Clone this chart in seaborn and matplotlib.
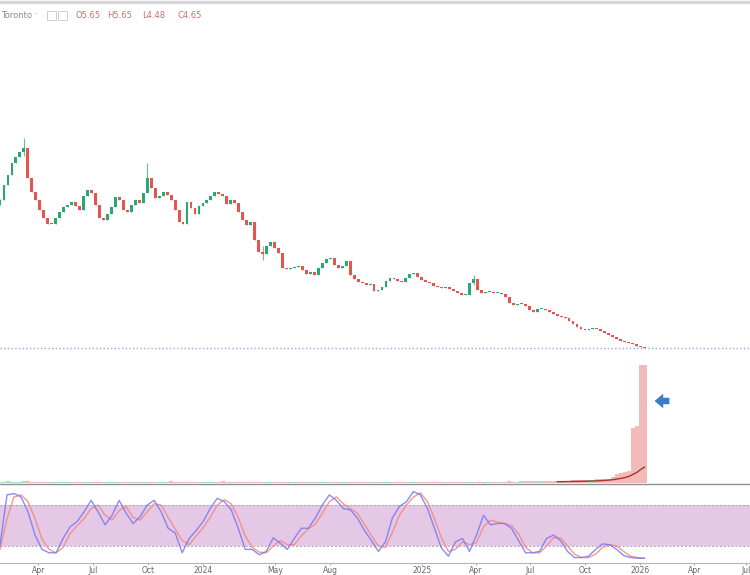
import matplotlib
matplotlib.use('Agg')
import matplotlib.pyplot as plt
from matplotlib.lines import Line2D
from matplotlib.patches import Rectangle
import numpy as np
import pandas as pd
import seaborn as sns

# weekly-ish closes (last one is C4.65 from the header)
closes = [19.45, 20.95, 21.95, 23.15, 23.75, 24.25, 24.65, 21.65, 20.25, 19.45,
          18.45, 17.65, 17.05, 17.05, 17.65, 18.25, 18.75, 18.95, 19.25, 18.85,
          18.45, 19.85, 20.45, 20.15, 18.95, 17.65, 17.45, 18.05, 18.75, 19.75,
          19.45, 18.45, 18.25, 18.95, 19.45, 19.15, 20.15, 21.65, 20.65, 19.65,
          19.85, 20.25, 19.95, 19.45, 18.45, 17.25, 17.05, 19.25, 18.65, 18.05,
          18.85, 19.15, 19.45, 19.85, 20.25, 20.05, 19.85, 19.05, 19.45, 19.15,
          18.25, 17.45, 16.95, 17.25, 15.45, 14.25, 14.05, 14.85, 15.25, 14.65,
          14.15, 12.65, 12.55, 12.65, 12.75, 12.85, 12.45, 12.05, 12.25, 11.95,
          12.65, 13.15, 13.55, 13.65, 12.95, 12.65, 12.85, 13.35, 11.95, 11.55,
          11.25, 11.15, 10.95, 11.05, 10.35, 10.45, 10.75, 11.35, 11.65, 11.55,
          11.35, 11.25, 11.65, 12.05, 12.15, 11.75, 11.45, 11.25, 11.15, 10.85,
          10.75, 10.65, 10.75, 10.55, 10.35, 10.15, 9.95, 9.95, 11.15, 11.55,
          10.45, 10.15, 10.25, 10.25, 10.15, 10.15, 10.05, 9.75, 9.15, 8.95,
          9.05, 9.05, 8.85, 8.45, 8.25, 8.55, 8.55, 8.45, 8.25, 8.05,
          7.85, 7.75, 7.65, 7.35, 7.05, 6.75, 6.55, 6.45, 6.55, 6.65,
          6.55, 6.35, 6.15, 5.95, 5.75, 5.55, 5.35, 5.25, 5.15, 5.05,
          4.85, 4.75, 4.65]
first_open = 18.95

# the few long wicks that stand out
wick_idx = [0, 6, 37, 66, 119]
wick_high = [19.6, 25.65, 23.15, 14.9, 11.95]
wick_low = [18.95, 23.9, 20.9, 13.45, 11.0]

volume = [1.4, 1.2, 1.6, 1.3, 1.1, 1.5, 1.8, 1.6, 1.2, 1.1, 1.0, 1.2, 0.9, 1.0,
          1.1, 1.0, 0.9, 1.2, 1.3, 1.1, 1.0, 0.9, 1.1, 1.2, 1.0, 0.9, 1.0, 1.1,
          1.2, 1.0, 1.1, 1.3, 1.5, 1.2, 1.0, 1.1, 0.9, 1.0, 1.2, 1.1, 1.0, 1.3,
          1.4, 1.6, 1.2, 1.1, 1.0, 1.2, 1.1, 1.3, 1.0, 0.9, 1.1, 1.0, 1.2, 1.5,
          1.7, 1.4, 1.2, 1.3, 1.1, 1.0, 1.2, 1.1, 1.0, 1.1, 0.9, 1.0, 1.1, 1.2,
          1.0, 1.1, 1.3, 1.2, 1.0, 0.9, 1.0, 1.1, 1.0, 1.2, 1.1, 1.0, 0.9, 1.0,
          1.1, 1.0, 1.2, 1.1, 0.9, 1.0, 1.1, 1.3, 1.0, 1.1, 1.0, 0.9, 1.0, 1.1,
          1.5, 1.2, 1.0, 1.1, 1.0, 0.9, 1.0, 1.1, 1.2, 1.0, 1.1, 1.0, 1.2, 1.1,
          1.0, 1.1, 1.2, 1.3, 1.1, 1.2, 1.4, 1.3, 1.2, 1.1, 1.3, 1.2, 1.4, 1.5,
          1.3, 1.4, 1.6, 1.5, 1.4, 1.6, 1.8, 1.7, 1.6, 1.8, 2.0, 1.9, 2.1, 2.2,
          2.0, 2.3, 2.5, 2.4, 2.6, 2.8, 3.0, 2.9, 3.2, 3.4, 3.6, 3.8, 4.0, 4.5,
          6.0, 9.5, 10.5, 11.0, 12.5, 55.0, 57.0, 118.0, 118.0]
vol_ma_start = 140
vol_ma = [1.3, 1.35, 1.4, 1.5, 1.55, 1.6, 1.7, 1.8, 1.9, 2.0, 2.2, 2.4, 2.6,
          2.9, 3.3, 3.9, 4.6, 5.4, 6.5, 8.5, 10.5, 13.5, 16.0]

stoch_k = [21, 95, 97, 92, 70, 36, 15, 10, 10, 31, 48, 56, 70, 87, 70, 51, 65,
           87, 68, 53, 63, 80, 87, 70, 46, 39, 10, 31, 43, 56, 75, 90, 85, 73,
           46, 15, 15, 7, 12, 32, 24, 15, 31, 46, 46, 61, 80, 95, 87, 75, 73,
           61, 43, 28, 12, 26, 61, 78, 85, 100, 95, 75, 46, 17, 5, 26, 31, 12,
           36, 65, 51, 53, 53, 46, 28, 10, 10, 12, 31, 36, 28, 12, 3, 3, 5, 15,
           23, 22, 15, 6, 3, 2, 2]
stoch_d = [15, 60, 92, 95, 85, 60, 30, 15, 10, 18, 38, 50, 60, 75, 80, 65, 58,
           72, 78, 62, 58, 70, 82, 80, 62, 45, 28, 22, 35, 47, 62, 80, 88, 82,
           62, 35, 18, 11, 10, 20, 28, 22, 22, 35, 45, 52, 68, 85, 92, 82, 75,
           68, 52, 35, 20, 18, 40, 65, 80, 92, 98, 85, 60, 32, 12, 15, 26, 22,
           25, 48, 58, 55, 53, 50, 38, 18, 10, 10, 20, 32, 32, 20, 8, 3, 3, 8,
           18, 22, 20, 12, 5, 3, 2]

tick_dates = ['2023-04-01', '2023-07-01', '2023-10-01', '2024-01-01', '2024-05-01',
              '2024-08-01', '2025-01-01', '2025-04-01', '2025-07-01', '2025-10-01',
              '2026-01-01', '2026-04-01', '2026-06-26']
tick_labels = ['Apr', 'Jul', 'Oct', '2024', 'May', 'Aug', '2025', 'Apr', 'Jul',
               'Oct', '2026', 'Apr', 'Jul']
header_name = 'Toronto'
header_ohlc = ['O5.65', 'H5.65', 'L4.48', 'C4.65']
last_close = 4.65

sns.set_theme(style='white')
plt.rcParams['font.family'] = ['DejaVu Sans']

green = '#27a874'
red = '#e2564f'
W, H = 750, 575

fig = plt.figure(figsize=(7.5, 5.75), dpi=100)
ax = fig.add_axes([0, 1 - 355 / H, 1, 355 / H])
axv = fig.add_axes([0, 1 - 483 / H, 1, 133 / H], sharex=ax)
ax3 = fig.add_axes([0, 1 - 563 / H, 1, 79 / H], sharex=ax)
for a in (ax, axv, ax3):
    a.patch.set_alpha(0)
    for s in a.spines.values():
        s.set_visible(False)

dates = pd.date_range('2023-01-27', '2026-01-08', periods=len(closes))
c = np.array(closes)
o = np.array([first_open] + closes[:-1])
up = c >= o
cols = np.where(up, green, red)
lo = np.minimum(o, c)
hi = np.maximum(o, c)
highs = hi.copy()
lows = lo.copy()
for i, h, l in zip(wick_idx, wick_high, wick_low):
    highs[i] = h
    lows[i] = l

ax.vlines(dates, lows, highs, colors=cols, linewidth=0.8, alpha=0.7)
ax.bar(dates, np.maximum(hi - lo, 0.15), bottom=lo, width=4.8, color=cols, linewidth=0)
ax.axhline(last_close, color='#9aa6e6', ls=':', lw=1.0)
ax.set_ylim(3.95, 39.45)
ax.set_xlim(pd.Timestamp('2023-01-27'), pd.Timestamp('2026-07-03'))
ax.set_yticks([])
ax.tick_params(labelbottom=False, bottom=False, left=False, labelleft=False)

# volume overlay
vcols = np.where(up, green, red)
axv.bar(dates, volume, width=6.7, color=vcols, alpha=0.4, linewidth=0)
axv.plot(dates[vol_ma_start:], vol_ma, color='#a8322f', lw=1.0)
axv.set_ylim(0, 133)
axv.set_yticks([])
axv.tick_params(labelbottom=False, bottom=False, left=False, labelleft=False)

# stochastic RSI pane
sdates = pd.date_range('2023-01-27', '2026-01-08', periods=len(stoch_k))
df = pd.DataFrame({'date': sdates, 'k': stoch_k, 'd': stoch_d})
ax3.axhspan(20, 80, color='#e4c8e6', lw=0)
ax3.axhline(80, color='#a6a6a6', ls=(0, (2, 2)), lw=0.7)
ax3.axhline(20, color='#a6a6a6', ls=(0, (2, 2)), lw=0.7)
sns.lineplot(data=df, x='date', y='d', ax=ax3, color='#f5877a', lw=1.0, alpha=0.85)
sns.lineplot(data=df, x='date', y='k', ax=ax3, color='#7678f5', lw=1.0, alpha=0.85)
ax3.set_ylim(-5, 111)
ax3.set_yticks([])
ax3.set_xlabel('')
ax3.set_ylabel('')
ax3.set_xticks(pd.to_datetime(tick_dates))
ax3.set_xticklabels(tick_labels)
ax3.tick_params(axis='x', length=1.5, width=0.6, color='#999999', labelsize=5.5,
                labelcolor='#666666', pad=0.5, bottom=True)

# pane separators
fig.add_artist(Line2D([0, 1], [1 - 2 / H, 1 - 2 / H], color='#d6d6d6', lw=2.5))
fig.add_artist(Line2D([0, 1], [1 - 483.5 / H, 1 - 483.5 / H], color='#8f8f8f', lw=1.0))
fig.add_artist(Line2D([0, 1], [1 - 563 / H, 1 - 563 / H], color='#b5b5b5', lw=0.8))

# header legend
fig.text(1 / W, 1 - 15 / H, header_name, ha='left', va='center', fontsize=6, color='#8a8a8a')
fig.text(34 / W, 1 - 15 / H, '·', ha='center', va='center', fontsize=6, color='#8a8a8a')
for bx in (47, 58):
    fig.add_artist(Rectangle((bx / W, 1 - 20 / H), 9 / W, 9 / H, fill=False,
                             edgecolor='#cfcfcf', lw=0.7, transform=fig.transFigure))
for xp, t in zip([76, 107, 142, 177], header_ohlc):
    fig.text(xp / W, 1 - 15 / H, t, ha='left', va='center', fontsize=6, color='#c9706a')

# arrow marking the volume spike
fig.add_artist(plt.annotate('', xy=(652 / W, 1 - 401 / H), xytext=(672 / W, 1 - 401 / H),
                            xycoords='figure fraction', textcoords='figure fraction',
                            arrowprops=dict(arrowstyle='simple,head_length=0.6,head_width=1.0,tail_width=0.45',
                                            mutation_scale=10, color='#3a7ccc', lw=0)))

fig.savefig('out.png', dpi=100)
